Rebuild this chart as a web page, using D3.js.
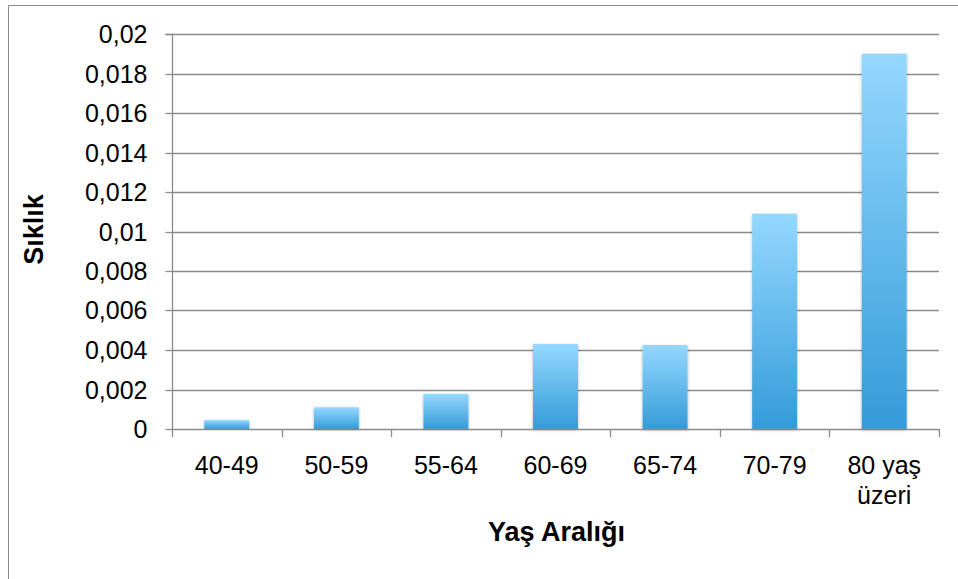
<!DOCTYPE html>
<html>
<head>
<meta charset="utf-8">
<script src="https://cdn.jsdelivr.net/npm/d3@7"></script>
<style>
  html, body { margin: 0; padding: 0; background: #fff; }
  svg { display: block; font-family: "Liberation Sans", Arial, sans-serif; }
</style>
</head>
<body>
<svg id="chart" width="958" height="579"></svg>
<script>
// Age groups and their frequencies
const categories = ["40-49", "50-59", "55-64", "60-69", "65-74", "70-79", "80 yaş\nüzeri"];
const values = [0.00045, 0.0011, 0.00177, 0.0043, 0.00425, 0.0109, 0.0190];
const yTicks = [0, 0.002, 0.004, 0.006, 0.008, 0.01, 0.012, 0.014, 0.016, 0.018, 0.02];

const svg = d3.select("#chart");
const W = 958, H = 579;
const m = { left: 172, right: 939, top: 34, bottom: 429 };

// Outer frame (left and top edges)
svg.append("path")
  .attr("d", `M8.5,${H} V5.5 H${W}`)
  .attr("fill", "none").attr("stroke", "#8a8a8a").attr("stroke-width", 1);

const x = d3.scaleBand().domain(categories).range([m.left, m.right]).paddingInner(0.59).paddingOuter(0.295);
const y = d3.scaleLinear().domain([0, 0.02]).range([m.bottom, m.top]);

const defs = svg.append("defs");
const grad = defs.append("linearGradient").attr("id", "barGrad")
  .attr("x1", 0).attr("y1", 0).attr("x2", 0).attr("y2", 1);
grad.append("stop").attr("offset", "0%").attr("stop-color", "#94d8fe");
grad.append("stop").attr("offset", "100%").attr("stop-color", "#349bd9");

const shadow = defs.append("filter").attr("id", "barShadow")
  .attr("x", "-20%").attr("y", "-5%").attr("width", "140%").attr("height", "110%");
shadow.append("feDropShadow").attr("dx", 0).attr("dy", 1).attr("stdDeviation", 1.6)
  .attr("flood-color", "#000").attr("flood-opacity", 0.3);

// Horizontal gridlines
svg.append("g").selectAll("line").data(yTicks.filter(d => d > 0)).join("line")
  .attr("x1", m.left).attr("x2", m.right)
  .attr("y1", d => Math.round(y(d)) + 0.5).attr("y2", d => Math.round(y(d)) + 0.5)
  .attr("stroke", "#8a8a8a").attr("stroke-width", 1.3);

// Y axis
const yAxis = d3.axisLeft(y).tickValues(yTicks).tickSize(7).tickPadding(18)
  .tickFormat(d => d === 0 ? "0" : String(+d.toFixed(3)).replace(".", ","));
const gy = svg.append("g").attr("transform", `translate(${m.left + 0.5},0.5)`).call(yAxis);
gy.select(".domain").attr("stroke", "#8a8a8a").attr("stroke-width", 1.3)
  .attr("d", `M-7,${Math.round(y(0.02))}H0V${Math.round(y(0))}`);
gy.selectAll(".tick line").attr("stroke", "#8a8a8a").attr("stroke-width", 1.3);
gy.selectAll(".tick").attr("transform", d => `translate(0,${Math.round(y(d))})`);
gy.selectAll("text").attr("font-size", 25).attr("fill", "#000")
  .attr("font-family", "Liberation Sans, Arial, sans-serif");

// Bars
svg.append("g").selectAll("rect").data(values).join("rect")
  .attr("x", (d, i) => x(categories[i]))
  .attr("width", x.bandwidth())
  .attr("y", d => y(d))
  .attr("height", d => y(0) - y(d))
  .attr("fill", "url(#barGrad)")
  .attr("filter", "url(#barShadow)");

// X axis line and band boundary ticks
const bounds = d3.range(categories.length + 1).map(i => m.left + i * (m.right - m.left) / categories.length);
const gx = svg.append("g");
gx.append("line").attr("x1", m.left).attr("x2", m.right)
  .attr("y1", Math.round(y(0)) + 0.5).attr("y2", Math.round(y(0)) + 0.5)
  .attr("stroke", "#8a8a8a").attr("stroke-width", 1.3);
gx.selectAll("line.tk").data(bounds).join("line").attr("class", "tk")
  .attr("x1", d => Math.round(d) + 0.5).attr("x2", d => Math.round(d) + 0.5)
  .attr("y1", Math.round(y(0))).attr("y2", Math.round(y(0)) + 8)
  .attr("stroke", "#8a8a8a").attr("stroke-width", 1.3);

// Category labels (may wrap onto two lines)
const lbl = gx.selectAll("text").data(categories).join("text")
  .attr("text-anchor", "middle").attr("font-size", 25).attr("fill", "#000");
lbl.each(function (d) {
  const parts = d.split("\n");
  d3.select(this).selectAll("tspan").data(parts).join("tspan")
    .attr("x", x(d) + x.bandwidth() / 2)
    .attr("y", (p, j) => 474 + j * 30)
    .text(p => p);
});

// Axis titles
svg.append("text").attr("x", (m.left + m.right) / 2 + 1).attr("y", 541)
  .attr("text-anchor", "middle").attr("font-size", 27).attr("font-weight", "bold")
  .text("Yaş Aralığı");
svg.append("text").attr("transform", `translate(43,${(m.top + m.bottom) / 2 - 2}) rotate(-90)`)
  .attr("text-anchor", "middle").attr("font-size", 27).attr("font-weight", "bold")
  .text("Sıklık");
</script>
</body>
</html>
